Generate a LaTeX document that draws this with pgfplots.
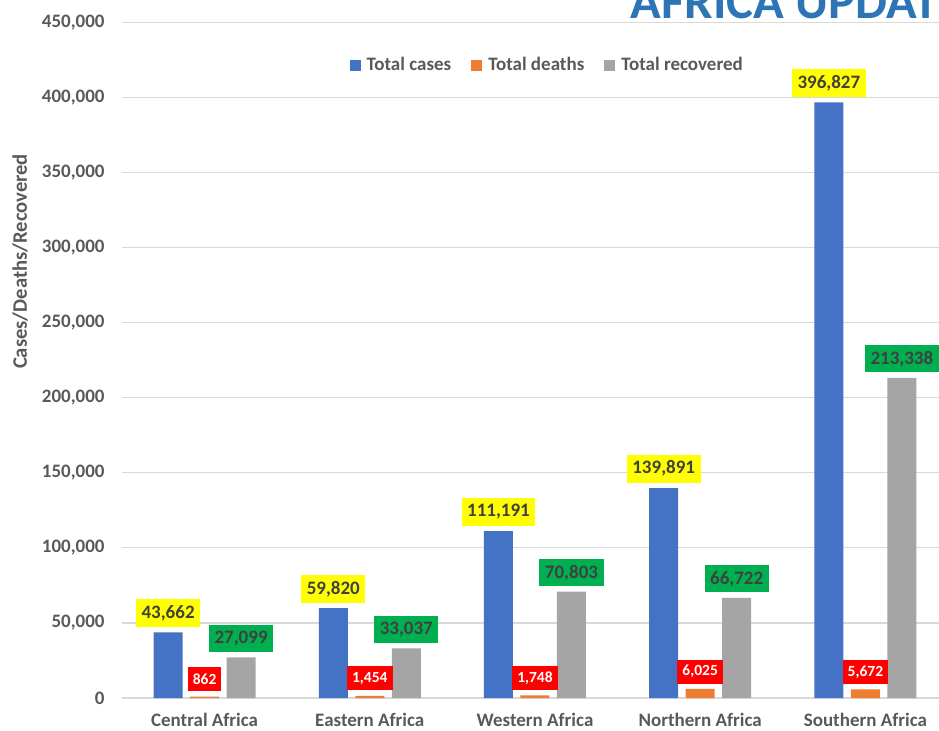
\documentclass[border=0pt]{standalone}
\usepackage{pgfplots}
\pgfplotsset{compat=1.18}
\usepackage{fontspec}
\setmainfont{Carlito}
\definecolor{cblue}{HTML}{4472C4}
\definecolor{corange}{HTML}{ED7D31}
\definecolor{cgray}{HTML}{A5A5A5}
\definecolor{gridgray}{HTML}{D9D9D9}
\definecolor{labelgray}{HTML}{595959}
\definecolor{titleblue}{HTML}{2E75B6}
\definecolor{labyellow}{HTML}{FFFF00}
\definecolor{labred}{HTML}{FF0000}
\definecolor{labgreen}{HTML}{00B050}
\definecolor{labdark}{HTML}{404040}
\begin{document}
\begin{tikzpicture}
\useasboundingbox (0,0) rectangle (469.5pt,365pt);
\begin{scope}
\clip (0,0) rectangle (469.5pt,365pt);
\begin{axis}[
  at={(61pt,16pt)}, anchor=south west,
  scale only axis, width=413pt, height=337.75pt,
  xmin=-0.5, xmax=4.5, ymin=0, ymax=450000,
  ybar=3.75pt, bar width=14.5pt,
  xtick={0,1,2,3,4},
  xticklabels={Central Africa, Eastern Africa, Western Africa, Northern Africa, Southern Africa},
  ytick={0,50000,100000,150000,200000,250000,300000,350000,400000,450000},
  scaled y ticks=false,
  ymajorgrids, grid style={draw=gridgray, line width=0.6pt},
  major tick length=0pt,
  axis x line*=bottom, axis y line*=left,
  x axis line style={draw=gridgray, line width=0.6pt, -},
  y axis line style={draw=none},
  tick label style={font=\fontsize{9.5}{11}\selectfont\bfseries, text=labelgray, inner sep=0pt},
  yticklabel style={xshift=-8.5pt},
  xticklabel style={yshift=-7.5pt, text depth=0pt},
  /pgf/number format/fixed,
  /pgf/number format/precision=0,
  /pgf/number format/1000 sep={,},
  /pgf/number format/assume math mode=true,
  legend style={at={(0.516,0.936)}, anchor=center, draw=none, fill=none,
    legend columns=-1, font=\fontsize{9.5}{11}\selectfont\bfseries, text=labelgray,
    /tikz/every even column/.append style={column sep=8pt}},
  nodes near coords,
  clip=false,
]
\addplot[fill=cblue, draw=none,
  every node near coord/.append style={anchor=south, yshift=2.5pt, fill=labyellow, text=labdark,
    font=\fontsize{9.5}{11}\selectfont\bfseries, inner xsep=2.75pt, inner ysep=0pt, minimum height=14pt},
  legend image code/.code={\fill[cblue] (0pt,-2.75pt) rectangle (5.5pt,2.75pt); \path (5.5pt,0pt) -- (6.5pt,0pt);}]
  coordinates {(0,43662) (1,59820) (2,111191) (3,139891) (4,396827)};
\addplot[fill=corange, draw=none,
  every node near coord/.append style={anchor=south, yshift=2.5pt, fill=labred, text=white,
    font=\fontsize{7.75}{9}\selectfont\bfseries, inner xsep=2.5pt, inner ysep=0pt, minimum height=12pt},
  legend image code/.code={\fill[corange] (0pt,-2.75pt) rectangle (5.5pt,2.75pt); \path (5.5pt,0pt) -- (6.5pt,0pt);}]
  coordinates {(0,862) (1,1454) (2,1748) (3,6025) (4,5672)};
\addplot[fill=cgray, draw=none,
  every node near coord/.append style={anchor=south, yshift=2.5pt, fill=labgreen, text=labdark,
    font=\fontsize{9.5}{11}\selectfont\bfseries, inner xsep=2.75pt, inner ysep=0pt, minimum height=13.5pt},
  legend image code/.code={\fill[cgray] (0pt,-2.75pt) rectangle (5.5pt,2.75pt); \path (5.5pt,0pt) -- (6.5pt,0pt);}]
  coordinates {(0,27099) (1,33037) (2,70803) (3,66722) (4,213338)};
\legend{Total cases, Total deaths, Total recovered}
\end{axis}
\node[anchor=base east, inner sep=0pt, text=titleblue, font=\fontsize{25.3}{30}\selectfont\bfseries] at (469.25pt,355.5pt) {AFRICA UPDAT};
\node[rotate=90, inner sep=0pt, text=labelgray, font=\fontsize{10.3}{12}\selectfont\bfseries] at (10pt,234.25pt) {Cases/Deaths/Recovered};
\end{scope}
\end{tikzpicture}
\end{document}
